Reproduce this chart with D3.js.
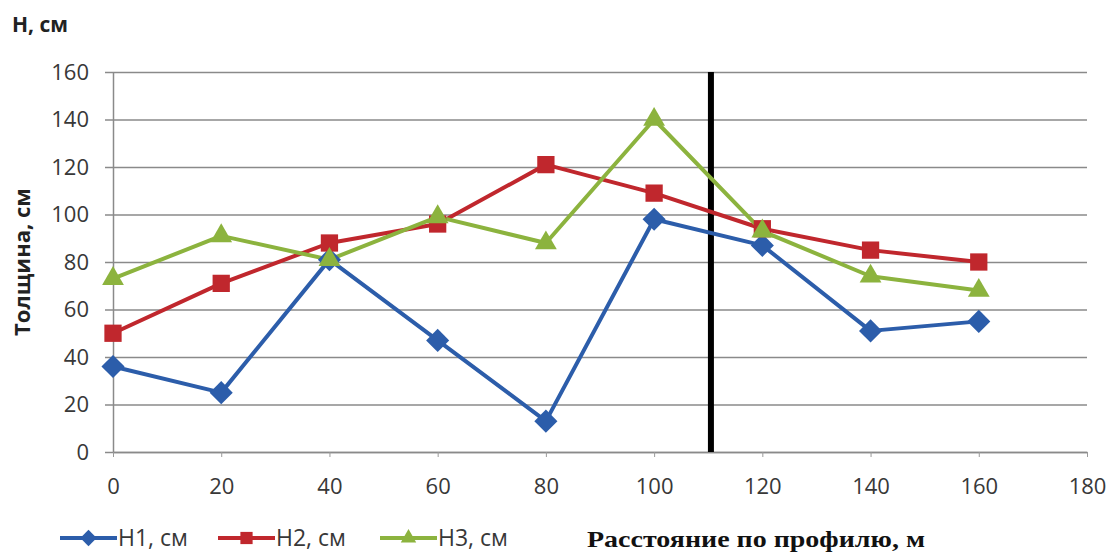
<!DOCTYPE html>
<html>
<head>
<meta charset="utf-8">
<script src="https://cdn.jsdelivr.net/npm/d3@7"></script>
<style>
  html, body { margin: 0; padding: 0; background: #fff; }
  svg { display: block; }
</style>
</head>
<body>
<svg id="chart" width="1110" height="555"></svg>
<script>
// ---- data ----
const distances = [0, 20, 40, 60, 80, 100, 120, 140, 160];
const h1 = [36, 25, 81, 47, 13, 98, 87, 51, 55];
const h2 = [50, 71, 88, 96, 121, 109, 94, 85, 80];
const h3 = [73, 91, 81, 99, 88, 140, 93, 74, 68];
const seriesNames = ["H1, см", "H2, см", "H3, см"];
const xTicks = [0, 20, 40, 60, 80, 100, 120, 140, 160, 180];
const yTicks = [0, 20, 40, 60, 80, 100, 120, 140, 160];
const boundaryX = [110.5];
const yTitle = "Толщина, см";
const xTitle = "Расстояние по профилю, м";
const topTitle = "H, см";

// ---- drawing ----
const svg = d3.select("#chart");
const W = 1110, H = 555;
const m = { left: 113, right: 23, top: 72, bottom: 103 };
const x = d3.scaleLinear().domain([0, 180]).range([m.left, W - m.right]);
const y = d3.scaleLinear().domain([0, 160]).range([H - m.bottom, m.top]);

const colors = ["#2c5daa", "#c0272d", "#8cb33e"];
const symbols = [d3.symbolDiamond2, d3.symbolSquare2, d3.symbolTriangle2];
const symSizes = [340, 380, 340];
const tickFont = "'Open Sans', sans-serif";

// gridlines
svg.append("g")
  .attr("transform", `translate(${m.left},0)`)
  .call(d3.axisLeft(y).tickValues(yTicks).tickSize(-(W - m.left - m.right)).tickFormat(""))
  .call(g => g.select(".domain").remove())
  .call(g => g.selectAll("line").attr("stroke", "#8a8a8a").attr("stroke-width", 1.5));

// y axis
svg.append("g")
  .attr("transform", `translate(${m.left},0)`)
  .call(d3.axisLeft(y).tickValues(yTicks).tickSize(8).tickSizeOuter(0).tickPadding(16))
  .call(g => g.select(".domain").attr("stroke", "#8a8a8a").attr("stroke-width", 1.5))
  .call(g => g.selectAll("line").attr("stroke", "#8a8a8a").attr("stroke-width", 1.5))
  .call(g => g.selectAll("text").attr("font-family", tickFont).attr("font-size", 22).attr("fill", "#383838"));

// x axis
svg.append("g")
  .attr("transform", `translate(0,${y(0)})`)
  .call(d3.axisBottom(x).tickValues(xTicks).tickSize(5).tickSizeOuter(0).tickPadding(21))
  .call(g => g.select(".domain").attr("stroke", "#8a8a8a").attr("stroke-width", 1.5))
  .call(g => g.selectAll("line").attr("stroke", "#9a9a9a").attr("stroke-width", 1))
  .call(g => g.selectAll("text").attr("font-family", tickFont).attr("font-size", 22).attr("fill", "#383838"));

// boundary line
svg.selectAll(".boundary").data(boundaryX).enter().append("line")
  .attr("x1", d => x(d)).attr("x2", d => x(d))
  .attr("y1", y(160)).attr("y2", y(0))
  .attr("stroke", "#000").attr("stroke-width", 6);

// series
const allSeries = [h1, h2, h3];
const line = d3.line().x((d, i) => x(distances[i])).y(d => y(d));
allSeries.forEach((vals, si) => {
  svg.append("path").datum(vals)
    .attr("d", line)
    .attr("fill", "none")
    .attr("stroke", colors[si])
    .attr("stroke-width", 4)
    .attr("stroke-linejoin", "round");
});
allSeries.forEach((vals, si) => {
  svg.selectAll(".m" + si).data(vals).enter().append("path")
    .attr("transform", (d, i) => `translate(${x(distances[i])},${y(d)})`)
    .attr("d", d3.symbol().type(symbols[si]).size(symSizes[si]))
    .attr("fill", colors[si]);
});

// legend
const legendX = [60, 218, 380];
const legendY = 538;
seriesNames.forEach((name, si) => {
  const g = svg.append("g").attr("transform", `translate(${legendX[si]},${legendY})`);
  g.append("line").attr("x1", 0).attr("x2", 57).attr("y1", 0).attr("y2", 0)
    .attr("stroke", colors[si]).attr("stroke-width", 4);
  g.append("path").attr("transform", "translate(28.5,0)")
    .attr("d", d3.symbol().type(symbols[si]).size(symSizes[si] * 0.5))
    .attr("fill", colors[si]);
  g.append("text").attr("x", 58).attr("y", 0).attr("dy", "0.35em")
    .attr("font-family", tickFont).attr("font-size", 23).attr("fill", "#383838")
    .text(name);
});

// x title
svg.append("text").attr("x", 587).attr("y", 547)
  .attr("font-family", "'Liberation Serif', serif").attr("font-weight", "bold")
  .attr("font-size", 24).attr("fill", "#111")
  .attr("textLength", 338).attr("lengthAdjust", "spacingAndGlyphs")
  .text(xTitle);

// y title
svg.append("text")
  .attr("transform", `translate(22,262) rotate(-90)`)
  .attr("text-anchor", "middle").attr("dy", "0.35em")
  .attr("font-family", tickFont).attr("font-weight", "bold")
  .attr("font-size", 22).attr("fill", "#222")
  .text(yTitle);

// top title
svg.append("text").attr("x", 12).attr("y", 32)
  .attr("font-family", tickFont).attr("font-weight", "bold")
  .attr("font-size", 21).attr("fill", "#222")
  .text(topTitle);
</script>
</body>
</html>
